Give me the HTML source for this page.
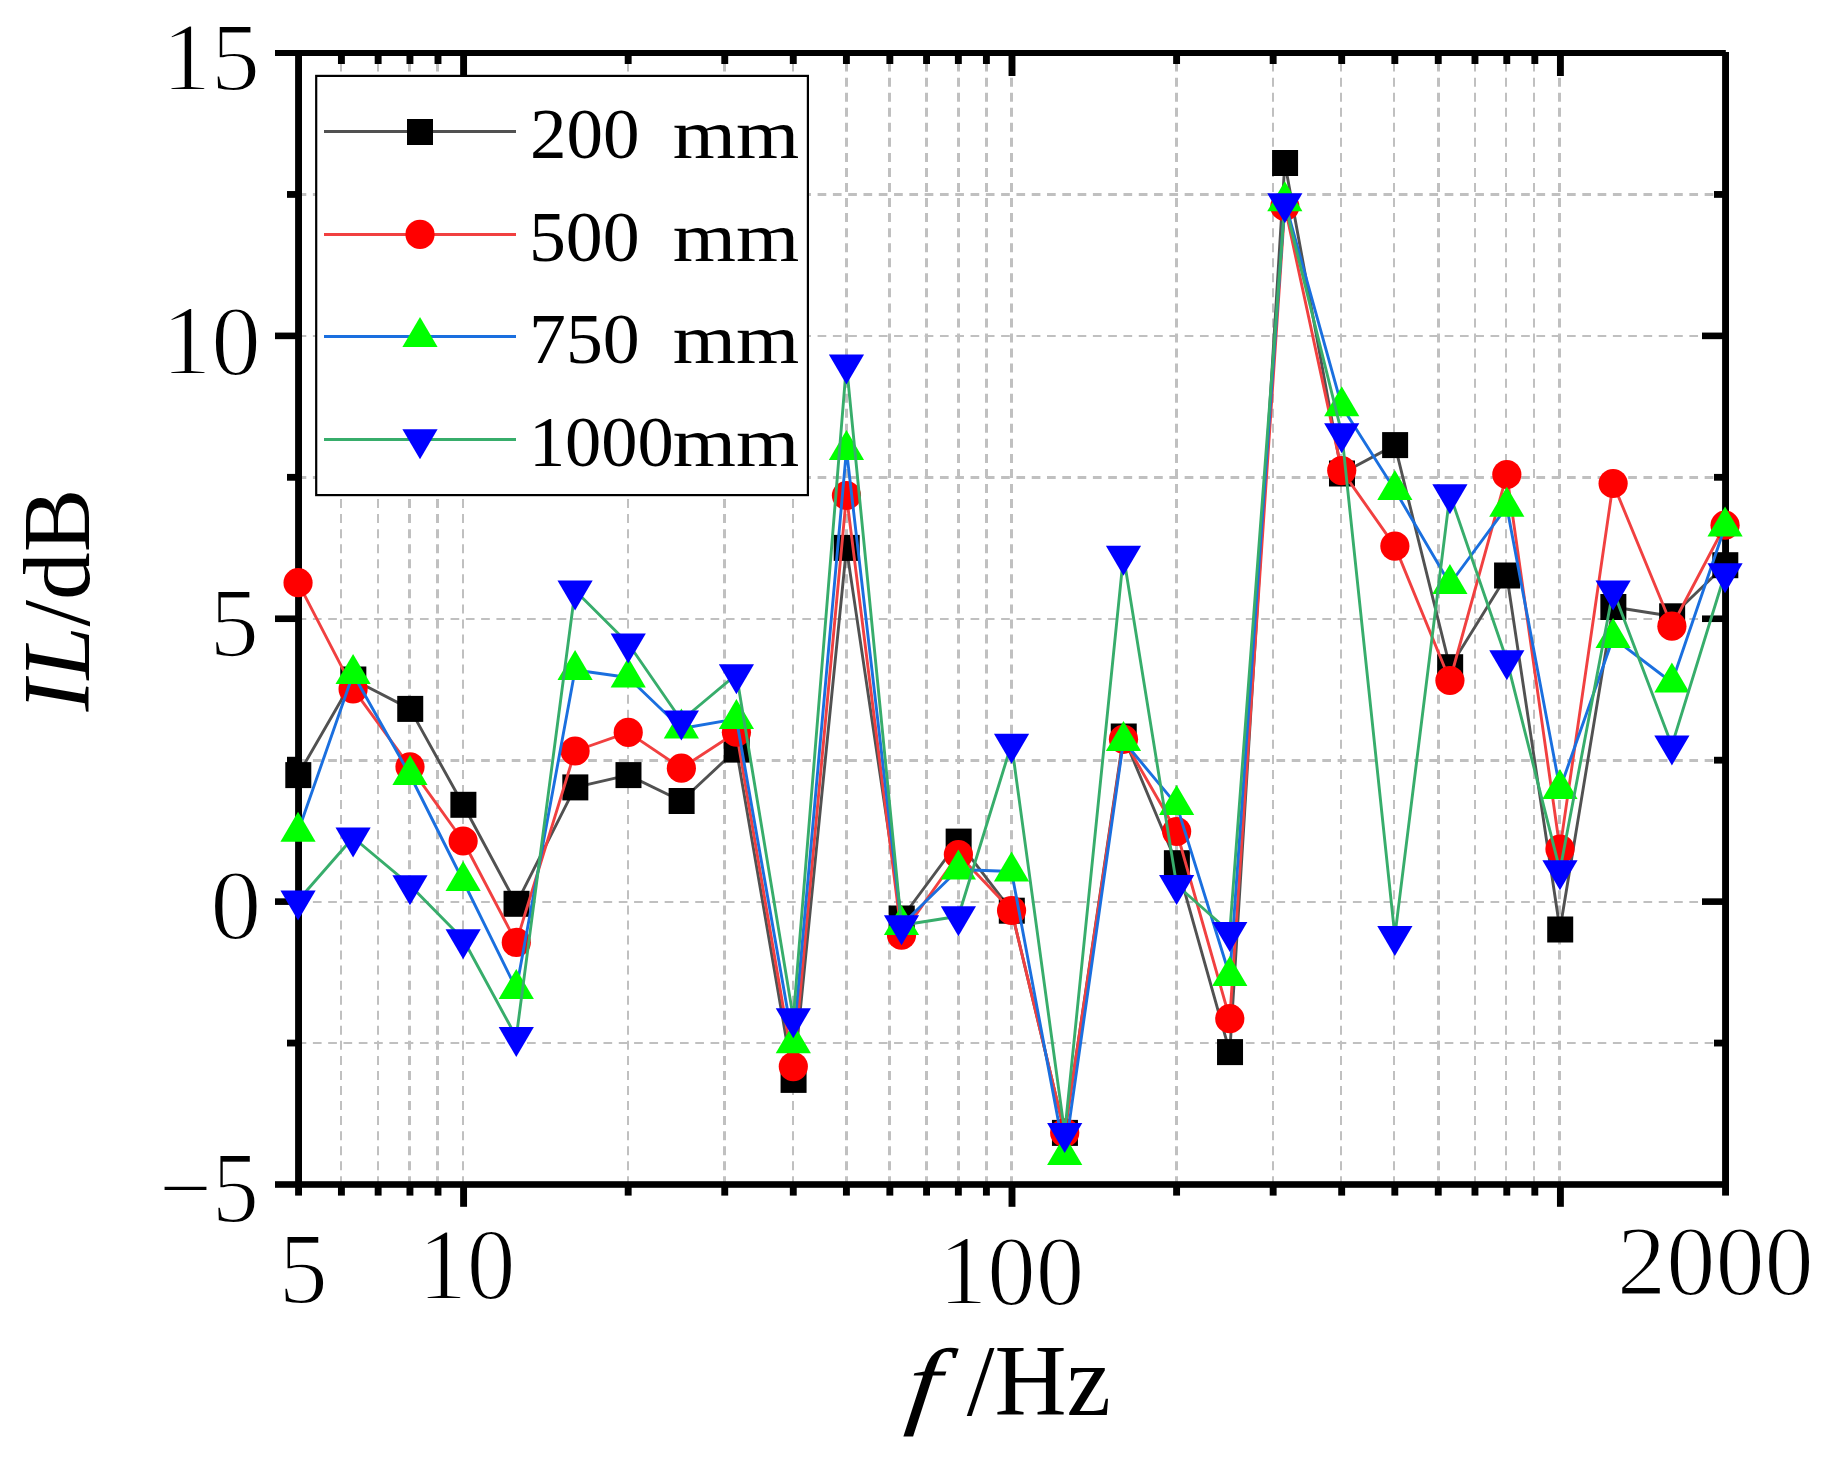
<!DOCTYPE html>
<html lang="en"><head><meta charset="utf-8"><title>IL vs f</title>
<style>html,body{margin:0;padding:0;background:#ffffff;}body{width:1830px;height:1460px;overflow:hidden;}svg{display:block;}text{font-family:"Liberation Serif","DejaVu Serif",serif;fill:#000;}</style>
</head><body>
<svg width="1830" height="1460" viewBox="0 0 1830 1460">
<rect x="0" y="0" width="1830" height="1460" fill="#ffffff"/>
<g stroke="#c0c0c0" stroke-width="2.4" fill="none">
<g stroke-dasharray="9.0 6.05">
<line x1="341" y1="62.6" x2="341" y2="1184.5" stroke-width="2.0"/>
<line x1="378" y1="62.6" x2="378" y2="1184.5" stroke-width="2.0"/>
<line x1="409.5" y1="62.6" x2="409.5" y2="1184.5" stroke-width="3.0"/>
<line x1="437.5" y1="62.6" x2="437.5" y2="1184.5" stroke-width="3.0"/>
<line x1="463" y1="62.6" x2="463" y2="1184.5" stroke-width="2.0"/>
<line x1="628" y1="62.6" x2="628" y2="1184.5" stroke-width="2.0"/>
<line x1="724.5" y1="62.6" x2="724.5" y2="1184.5" stroke-width="3.0"/>
<line x1="793" y1="62.6" x2="793" y2="1184.5" stroke-width="2.0"/>
<line x1="846.5" y1="62.6" x2="846.5" y2="1184.5" stroke-width="3.0"/>
<line x1="889.5" y1="62.6" x2="889.5" y2="1184.5" stroke-width="3.0"/>
<line x1="926.5" y1="62.6" x2="926.5" y2="1184.5" stroke-width="3.0"/>
<line x1="958.5" y1="62.6" x2="958.5" y2="1184.5" stroke-width="3.0"/>
<line x1="986.5" y1="62.6" x2="986.5" y2="1184.5" stroke-width="3.0"/>
<line x1="1011.5" y1="62.6" x2="1011.5" y2="1184.5" stroke-width="3.0"/>
<line x1="1176.5" y1="62.6" x2="1176.5" y2="1184.5" stroke-width="3.0"/>
<line x1="1273" y1="62.6" x2="1273" y2="1184.5" stroke-width="2.0"/>
<line x1="1341" y1="62.6" x2="1341" y2="1184.5" stroke-width="2.0"/>
<line x1="1394" y1="62.6" x2="1394" y2="1184.5" stroke-width="2.0"/>
<line x1="1438.5" y1="62.6" x2="1438.5" y2="1184.5" stroke-width="3.0"/>
<line x1="1475" y1="62.6" x2="1475" y2="1184.5" stroke-width="2.0"/>
<line x1="1506" y1="62.6" x2="1506" y2="1184.5" stroke-width="2.0"/>
<line x1="1534" y1="62.6" x2="1534" y2="1184.5" stroke-width="2.0"/>
<line x1="1559.5" y1="62.6" x2="1559.5" y2="1184.5" stroke-width="3.0"/>
</g>
<g stroke-dasharray="8.7 6.594">
<line x1="297.6" y1="194.5" x2="1725.5" y2="194.5" stroke-width="3.0"/>
<line x1="297.6" y1="336" x2="1725.5" y2="336" stroke-width="2.0"/>
<line x1="297.6" y1="477.5" x2="1725.5" y2="477.5" stroke-width="3.0"/>
<line x1="297.6" y1="619" x2="1725.5" y2="619" stroke-width="2.0"/>
<line x1="297.6" y1="760.5" x2="1725.5" y2="760.5" stroke-width="3.0"/>
<line x1="297.6" y1="902" x2="1725.5" y2="902" stroke-width="2.0"/>
<line x1="297.6" y1="1043" x2="1725.5" y2="1043" stroke-width="2.0"/>
</g>
</g>
<g fill="#000000">
<rect x="275" y="50" width="1450.8" height="6"/>
<rect x="275" y="1181.2" width="1454" height="6.6"/>
<rect x="295.1" y="50" width="6.9" height="1145.6"/>
<rect x="1722.1" y="52" width="6.9" height="1143.6"/>
<rect x="337.97" y="55" width="6.9" height="9"/>
<rect x="337.97" y="1187" width="6.9" height="8.6"/>
<rect x="374.69" y="55" width="6.9" height="9"/>
<rect x="374.69" y="1187" width="6.9" height="8.6"/>
<rect x="406.49" y="55" width="6.9" height="9"/>
<rect x="406.49" y="1187" width="6.9" height="8.6"/>
<rect x="434.54" y="55" width="6.9" height="9"/>
<rect x="434.54" y="1187" width="6.9" height="8.6"/>
<rect x="624.73" y="55" width="6.9" height="9"/>
<rect x="624.73" y="1187" width="6.9" height="8.6"/>
<rect x="721.3" y="55" width="6.9" height="9"/>
<rect x="721.3" y="1187" width="6.9" height="8.6"/>
<rect x="789.82" y="55" width="6.9" height="9"/>
<rect x="789.82" y="1187" width="6.9" height="8.6"/>
<rect x="842.96" y="55" width="6.9" height="9"/>
<rect x="842.96" y="1187" width="6.9" height="8.6"/>
<rect x="886.39" y="55" width="6.9" height="9"/>
<rect x="886.39" y="1187" width="6.9" height="8.6"/>
<rect x="923.1" y="55" width="6.9" height="9"/>
<rect x="923.1" y="1187" width="6.9" height="8.6"/>
<rect x="954.9" y="55" width="6.9" height="9"/>
<rect x="954.9" y="1187" width="6.9" height="8.6"/>
<rect x="982.96" y="55" width="6.9" height="9"/>
<rect x="982.96" y="1187" width="6.9" height="8.6"/>
<rect x="1173.14" y="55" width="6.9" height="9"/>
<rect x="1173.14" y="1187" width="6.9" height="8.6"/>
<rect x="1269.71" y="55" width="6.9" height="9"/>
<rect x="1269.71" y="1187" width="6.9" height="8.6"/>
<rect x="1338.23" y="55" width="6.9" height="9"/>
<rect x="1338.23" y="1187" width="6.9" height="8.6"/>
<rect x="1391.37" y="55" width="6.9" height="9"/>
<rect x="1391.37" y="1187" width="6.9" height="8.6"/>
<rect x="1434.8" y="55" width="6.9" height="9"/>
<rect x="1434.8" y="1187" width="6.9" height="8.6"/>
<rect x="1471.51" y="55" width="6.9" height="9"/>
<rect x="1471.51" y="1187" width="6.9" height="8.6"/>
<rect x="1503.32" y="55" width="6.9" height="9"/>
<rect x="1503.32" y="1187" width="6.9" height="8.6"/>
<rect x="1531.37" y="55" width="6.9" height="9"/>
<rect x="1531.37" y="1187" width="6.9" height="8.6"/>
<rect x="460.14" y="55" width="6.9" height="21"/>
<rect x="460.14" y="1187" width="6.9" height="19.8"/>
<rect x="1008.55" y="55" width="6.9" height="21"/>
<rect x="1008.55" y="1187" width="6.9" height="19.8"/>
<rect x="1556.96" y="55" width="6.9" height="21"/>
<rect x="1556.96" y="1187" width="6.9" height="19.8"/>
<rect x="287" y="191.04" width="9" height="6.8"/>
<rect x="1714" y="191.04" width="9" height="6.8"/>
<rect x="287" y="473.91" width="9" height="6.8"/>
<rect x="1714" y="473.91" width="9" height="6.8"/>
<rect x="287" y="756.79" width="9" height="6.8"/>
<rect x="1714" y="756.79" width="9" height="6.8"/>
<rect x="287" y="1039.66" width="9" height="6.8"/>
<rect x="1714" y="1039.66" width="9" height="6.8"/>
<rect x="275" y="332.57" width="21" height="6.6"/>
<rect x="1702" y="332.57" width="21" height="6.6"/>
<rect x="275" y="615.45" width="21" height="6.6"/>
<rect x="1702" y="615.45" width="21" height="6.6"/>
<rect x="275" y="898.33" width="21" height="6.6"/>
<rect x="1702" y="898.33" width="21" height="6.6"/>
</g>
<polyline points="298.05,775.1 353.09,679.5 409.99,708.9 463.14,804.8 516.28,903.8 575.08,787.4 628.23,775.1 681.37,801 736.42,749.6 793.32,1079.9 846.46,547.9 901.51,918.5 958.4,841.6 1011.55,910.7 1064.7,1132.9 1123.49,736.5 1176.64,863.2 1229.78,1052.1 1284.83,163 1341.73,473.5 1394.87,445.1 1449.92,667.2 1506.82,575.5 1559.96,929.5 1613.11,607 1671.9,616.3 1725.05,565.2" fill="none" stroke="#515151" stroke-width="2.9" stroke-linejoin="round"/>
<g>
<rect x="285.3" y="762.1" width="26" height="26" fill="#000000"/>
<rect x="340.34" y="666.5" width="26" height="26" fill="#000000"/>
<rect x="397.24" y="695.9" width="26" height="26" fill="#000000"/>
<rect x="450.39" y="791.8" width="26" height="26" fill="#000000"/>
<rect x="503.53" y="890.8" width="26" height="26" fill="#000000"/>
<rect x="562.33" y="774.4" width="26" height="26" fill="#000000"/>
<rect x="615.48" y="762.1" width="26" height="26" fill="#000000"/>
<rect x="668.62" y="788" width="26" height="26" fill="#000000"/>
<rect x="723.67" y="736.6" width="26" height="26" fill="#000000"/>
<rect x="780.57" y="1066.9" width="26" height="26" fill="#000000"/>
<rect x="833.71" y="534.9" width="26" height="26" fill="#000000"/>
<rect x="888.76" y="905.5" width="26" height="26" fill="#000000"/>
<rect x="945.65" y="828.6" width="26" height="26" fill="#000000"/>
<rect x="998.8" y="897.7" width="26" height="26" fill="#000000"/>
<rect x="1051.95" y="1119.9" width="26" height="26" fill="#000000"/>
<rect x="1110.74" y="723.5" width="26" height="26" fill="#000000"/>
<rect x="1163.89" y="850.2" width="26" height="26" fill="#000000"/>
<rect x="1217.03" y="1039.1" width="26" height="26" fill="#000000"/>
<rect x="1272.08" y="150" width="26" height="26" fill="#000000"/>
<rect x="1328.98" y="460.5" width="26" height="26" fill="#000000"/>
<rect x="1382.12" y="432.1" width="26" height="26" fill="#000000"/>
<rect x="1437.17" y="654.2" width="26" height="26" fill="#000000"/>
<rect x="1494.07" y="562.5" width="26" height="26" fill="#000000"/>
<rect x="1547.21" y="916.5" width="26" height="26" fill="#000000"/>
<rect x="1600.36" y="594" width="26" height="26" fill="#000000"/>
<rect x="1659.15" y="603.3" width="26" height="26" fill="#000000"/>
<rect x="1712.3" y="552.2" width="26" height="26" fill="#000000"/>
</g>
<polyline points="298.05,582.7 353.09,688.9 409.99,766.8 463.14,841 516.28,942.4 575.08,751 628.23,732.4 681.37,768.2 736.42,732.2 793.32,1066.6 846.46,495.5 901.51,935.1 958.4,854.5 1011.55,910.5 1064.7,1132.8 1123.49,739.3 1176.64,831.5 1229.78,1018.7 1284.83,206.5 1341.73,470.6 1394.87,546.1 1449.92,680.5 1506.82,474.5 1559.96,849.1 1613.11,483.5 1671.9,626.2 1725.05,525.2" fill="none" stroke="#F14040" stroke-width="2.9" stroke-linejoin="round"/>
<g>
<circle cx="298.05" cy="582.7" r="14.6" fill="#FF0000"/>
<circle cx="353.09" cy="688.9" r="14.6" fill="#FF0000"/>
<circle cx="409.99" cy="766.8" r="14.6" fill="#FF0000"/>
<circle cx="463.14" cy="841" r="14.6" fill="#FF0000"/>
<circle cx="516.28" cy="942.4" r="14.6" fill="#FF0000"/>
<circle cx="575.08" cy="751" r="14.6" fill="#FF0000"/>
<circle cx="628.23" cy="732.4" r="14.6" fill="#FF0000"/>
<circle cx="681.37" cy="768.2" r="14.6" fill="#FF0000"/>
<circle cx="736.42" cy="732.2" r="14.6" fill="#FF0000"/>
<circle cx="793.32" cy="1066.6" r="14.6" fill="#FF0000"/>
<circle cx="846.46" cy="495.5" r="14.6" fill="#FF0000"/>
<circle cx="901.51" cy="935.1" r="14.6" fill="#FF0000"/>
<circle cx="958.4" cy="854.5" r="14.6" fill="#FF0000"/>
<circle cx="1011.55" cy="910.5" r="14.6" fill="#FF0000"/>
<circle cx="1064.7" cy="1132.8" r="14.6" fill="#FF0000"/>
<circle cx="1123.49" cy="739.3" r="14.6" fill="#FF0000"/>
<circle cx="1176.64" cy="831.5" r="14.6" fill="#FF0000"/>
<circle cx="1229.78" cy="1018.7" r="14.6" fill="#FF0000"/>
<circle cx="1284.83" cy="206.5" r="14.6" fill="#FF0000"/>
<circle cx="1341.73" cy="470.6" r="14.6" fill="#FF0000"/>
<circle cx="1394.87" cy="546.1" r="14.6" fill="#FF0000"/>
<circle cx="1449.92" cy="680.5" r="14.6" fill="#FF0000"/>
<circle cx="1506.82" cy="474.5" r="14.6" fill="#FF0000"/>
<circle cx="1559.96" cy="849.1" r="14.6" fill="#FF0000"/>
<circle cx="1613.11" cy="483.5" r="14.6" fill="#FF0000"/>
<circle cx="1671.9" cy="626.2" r="14.6" fill="#FF0000"/>
<circle cx="1725.05" cy="525.2" r="14.6" fill="#FF0000"/>
</g>
<polyline points="298.05,831.8 353.09,674 409.99,775 463.14,881 516.28,989 575.08,670 628.23,677.5 681.37,728.5 736.42,718.9 793.32,1043.3 846.46,449.9 901.51,925 958.4,869.5 1011.55,871.5 1064.7,1154.9 1123.49,741 1176.64,804.9 1229.78,976 1284.83,201.3 1341.73,406.2 1394.87,490 1449.92,584 1506.82,506.8 1559.96,788.9 1613.11,637.9 1671.9,682.5 1725.05,526.5" fill="none" stroke="#1A6FDF" stroke-width="2.9" stroke-linejoin="round"/>
<g>
<polygon points="280.45,841.8 315.65,841.8 298.05,811.8" fill="#00FF00"/>
<polygon points="335.49,684 370.69,684 353.09,654" fill="#00FF00"/>
<polygon points="392.39,785 427.59,785 409.99,755" fill="#00FF00"/>
<polygon points="445.54,891 480.74,891 463.14,861" fill="#00FF00"/>
<polygon points="498.68,999 533.88,999 516.28,969" fill="#00FF00"/>
<polygon points="557.48,680 592.68,680 575.08,650" fill="#00FF00"/>
<polygon points="610.63,687.5 645.83,687.5 628.23,657.5" fill="#00FF00"/>
<polygon points="663.77,738.5 698.97,738.5 681.37,708.5" fill="#00FF00"/>
<polygon points="718.82,728.9 754.02,728.9 736.42,698.9" fill="#00FF00"/>
<polygon points="775.72,1053.3 810.92,1053.3 793.32,1023.3" fill="#00FF00"/>
<polygon points="828.86,459.9 864.06,459.9 846.46,429.9" fill="#00FF00"/>
<polygon points="883.91,935 919.11,935 901.51,905" fill="#00FF00"/>
<polygon points="940.8,879.5 976,879.5 958.4,849.5" fill="#00FF00"/>
<polygon points="993.95,881.5 1029.15,881.5 1011.55,851.5" fill="#00FF00"/>
<polygon points="1047.1,1164.9 1082.3,1164.9 1064.7,1134.9" fill="#00FF00"/>
<polygon points="1105.89,751 1141.09,751 1123.49,721" fill="#00FF00"/>
<polygon points="1159.04,814.9 1194.24,814.9 1176.64,784.9" fill="#00FF00"/>
<polygon points="1212.18,986 1247.38,986 1229.78,956" fill="#00FF00"/>
<polygon points="1267.23,211.3 1302.43,211.3 1284.83,181.3" fill="#00FF00"/>
<polygon points="1324.13,416.2 1359.33,416.2 1341.73,386.2" fill="#00FF00"/>
<polygon points="1377.27,500 1412.47,500 1394.87,470" fill="#00FF00"/>
<polygon points="1432.32,594 1467.52,594 1449.92,564" fill="#00FF00"/>
<polygon points="1489.22,516.8 1524.42,516.8 1506.82,486.8" fill="#00FF00"/>
<polygon points="1542.36,798.9 1577.56,798.9 1559.96,768.9" fill="#00FF00"/>
<polygon points="1595.51,647.9 1630.71,647.9 1613.11,617.9" fill="#00FF00"/>
<polygon points="1654.3,692.5 1689.5,692.5 1671.9,662.5" fill="#00FF00"/>
<polygon points="1707.45,536.5 1742.65,536.5 1725.05,506.5" fill="#00FF00"/>
</g>
<polyline points="298.05,900.5 353.09,837.5 409.99,885.2 463.14,939.3 516.28,1037.1 575.08,590.5 628.23,643.5 681.37,720.5 736.42,674.3 793.32,1018.2 846.46,364.6 901.51,925.3 958.4,916.3 1011.55,743.8 1064.7,1133 1123.49,555.8 1176.64,885 1229.78,932 1284.83,203.3 1341.73,433.2 1394.87,936.1 1449.92,494.3 1506.82,660.2 1559.96,870.3 1613.11,590.4 1671.9,745.4 1725.05,573.3" fill="none" stroke="#37AD6B" stroke-width="2.9" stroke-linejoin="round"/>
<g>
<polygon points="280.45,890.5 315.65,890.5 298.05,920.5" fill="#0000FF"/>
<polygon points="335.49,827.5 370.69,827.5 353.09,857.5" fill="#0000FF"/>
<polygon points="392.39,875.2 427.59,875.2 409.99,905.2" fill="#0000FF"/>
<polygon points="445.54,929.3 480.74,929.3 463.14,959.3" fill="#0000FF"/>
<polygon points="498.68,1027.1 533.88,1027.1 516.28,1057.1" fill="#0000FF"/>
<polygon points="557.48,580.5 592.68,580.5 575.08,610.5" fill="#0000FF"/>
<polygon points="610.63,633.5 645.83,633.5 628.23,663.5" fill="#0000FF"/>
<polygon points="663.77,710.5 698.97,710.5 681.37,740.5" fill="#0000FF"/>
<polygon points="718.82,664.3 754.02,664.3 736.42,694.3" fill="#0000FF"/>
<polygon points="775.72,1008.2 810.92,1008.2 793.32,1038.2" fill="#0000FF"/>
<polygon points="828.86,354.6 864.06,354.6 846.46,384.6" fill="#0000FF"/>
<polygon points="883.91,915.3 919.11,915.3 901.51,945.3" fill="#0000FF"/>
<polygon points="940.8,906.3 976,906.3 958.4,936.3" fill="#0000FF"/>
<polygon points="993.95,733.8 1029.15,733.8 1011.55,763.8" fill="#0000FF"/>
<polygon points="1047.1,1123 1082.3,1123 1064.7,1153" fill="#0000FF"/>
<polygon points="1105.89,545.8 1141.09,545.8 1123.49,575.8" fill="#0000FF"/>
<polygon points="1159.04,875 1194.24,875 1176.64,905" fill="#0000FF"/>
<polygon points="1212.18,922 1247.38,922 1229.78,952" fill="#0000FF"/>
<polygon points="1267.23,193.3 1302.43,193.3 1284.83,223.3" fill="#0000FF"/>
<polygon points="1324.13,423.2 1359.33,423.2 1341.73,453.2" fill="#0000FF"/>
<polygon points="1377.27,926.1 1412.47,926.1 1394.87,956.1" fill="#0000FF"/>
<polygon points="1432.32,484.3 1467.52,484.3 1449.92,514.3" fill="#0000FF"/>
<polygon points="1489.22,650.2 1524.42,650.2 1506.82,680.2" fill="#0000FF"/>
<polygon points="1542.36,860.3 1577.56,860.3 1559.96,890.3" fill="#0000FF"/>
<polygon points="1595.51,580.4 1630.71,580.4 1613.11,610.4" fill="#0000FF"/>
<polygon points="1654.3,735.4 1689.5,735.4 1671.9,765.4" fill="#0000FF"/>
<polygon points="1707.45,563.3 1742.65,563.3 1725.05,593.3" fill="#0000FF"/>
</g>
<rect x="316.2" y="75.9" width="491.7" height="419.2" fill="#ffffff" stroke="#000000" stroke-width="2.2"/>
<line x1="324" y1="131.5" x2="516" y2="131.5" stroke="#515151" stroke-width="2.9"/>
<rect x="407" y="119" width="26" height="26" fill="#000000"/>
<line x1="324" y1="234.5" x2="516" y2="234.5" stroke="#F14040" stroke-width="2.9"/>
<circle cx="420" cy="234.4" r="14.6" fill="#FF0000"/>
<line x1="324" y1="336.5" x2="516" y2="336.5" stroke="#1A6FDF" stroke-width="2.9"/>
<polygon points="402.4,347 437.6,347 420,317" fill="#00FF00"/>
<line x1="324" y1="439.5" x2="516" y2="439.5" stroke="#37AD6B" stroke-width="2.9"/>
<polygon points="402.4,429.3 437.6,429.3 420,459.3" fill="#0000FF"/>
<text transform="matrix(0.9800 0 0 0.9815 161.90 89.50)" font-size="100" stroke="#ffffff" stroke-width="1.8">15</text>
<text transform="matrix(0.9918 0 0 0.9970 161.78 374.00)" font-size="100" stroke="#ffffff" stroke-width="1.8">10</text>
<text transform="matrix(0.9895 0 0 0.9922 209.47 655.50)" font-size="100" stroke="#ffffff" stroke-width="1.8">5</text>
<text transform="matrix(1.0225 0 0 0.9908 210.19 937.61)" font-size="100" stroke="#ffffff" stroke-width="1.8">0</text>
<text transform="matrix(0.9385 0 0 1.0141 159.07 1222.20)" font-size="100" stroke="#ffffff" stroke-width="1.8">−5</text>
<text transform="matrix(0.9816 0 0 1.0156 278.83 1303.00)" font-size="100" stroke="#ffffff" stroke-width="1.8">5</text>
<text transform="matrix(0.9741 0 0 1.0121 418.16 1298.59)" font-size="100" stroke="#ffffff" stroke-width="1.8">10</text>
<text transform="matrix(0.9689 0 0 0.9955 938.81 1304.20)" font-size="100" stroke="#ffffff" stroke-width="1.8">100</text>
<text transform="matrix(0.9832 0 0 0.9938 1617.08 1293.91)" font-size="100" stroke="#ffffff" stroke-width="1.8">2000</text>
<text transform="matrix(0.7310 0 0 0.7179 529.98 157.86)" font-size="100">200</text>
<text transform="matrix(0.7379 0 0 0.7149 528.97 260.77)" font-size="100">500</text>
<text transform="matrix(0.7374 0 0 0.7209 529.04 362.96)" font-size="100">750</text>
<text transform="matrix(0.7246 0 0 0.7176 528.88 465.96)" font-size="100">1000</text>
<text transform="matrix(0.8138 0 0 0.6936 672.67 158.10)" font-size="100">mm</text>
<text transform="matrix(0.8138 0 0 0.6936 672.67 260.80)" font-size="100">mm</text>
<text transform="matrix(0.8138 0 0 0.6936 672.67 363.00)" font-size="100">mm</text>
<text transform="matrix(0.8138 0 0 0.6936 672.67 466.00)" font-size="100">mm</text>
<g transform="matrix(1.2000 0 0 0.9681 904.20 1415.57)"><text transform="skewX(-5)" font-size="100" font-style="italic">f</text></g>
<text transform="matrix(0.9979 0 0 1.0182 966.80 1414.78)" font-size="100">/Hz</text>
<text transform="matrix(0 -0.9555 0.9586 0 88.54 711.40)" font-size="100"><tspan font-style="italic">IL</tspan>/dB</text>
</svg></body></html>
